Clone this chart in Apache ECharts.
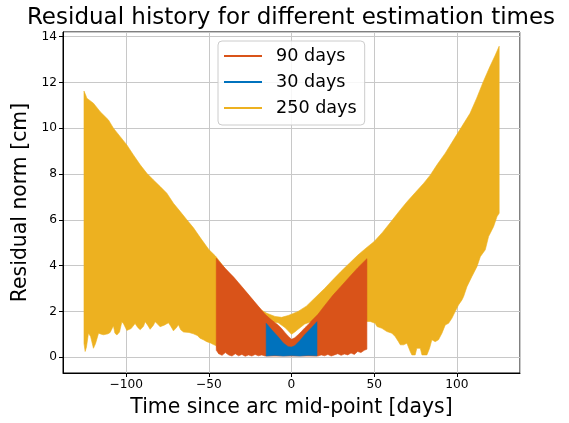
<!DOCTYPE html>
<html>
<head>
<meta charset="utf-8">
<script src="https://cdn.jsdelivr.net/npm/echarts@6/dist/echarts.min.js"></script>
<style>
  html, body { margin: 0; padding: 0; background: #fff; }
  #chart { width: 569px; height: 423px; }
</style>
</head>
<body>
<div id="chart"></div>
<script>
// Residual norm envelopes (cm) of each estimation arc, sampled over time (days since arc mid-point).
// Each band is filled between its upper and lower envelope.

const legendOrder = ['90 days', '30 days', '250 days'];
const xTicks = [-100, -50, 0, 50, 100];
const yTicks = [0, 2, 4, 6, 8, 10, 12, 14];

// 250-day arc
const arc250UpperDays = [-125.5, -124.5, -123.8, -119.8, -115.7, -110.7, -107.7, -103.6, -99.6, -95.6, -91.5, -87.5, -83.5, -79.4, -75.4, -71.4, -67.3, -63.3, -59.3, -55, -50, -46, -45.5, -40, -35, -30, -25, -21, -18, -15, -10, -6, -2, 0, 4, 9, 15, 20, 25, 30, 35, 40, 45, 50, 55, 60, 66, 70, 75, 80, 84, 88, 93, 98, 103, 108, 112, 116, 120, 123, 125.6];
const arc250UpperVals = [11.62, 11.45, 11.31, 11.09, 10.72, 10.36, 10.0, 9.63, 9.27, 8.83, 8.40, 8.03, 7.74, 7.45, 7.16, 6.72, 6.36, 6.0, 5.65, 5.2, 4.7, 4.42, 4.38, 3.85, 3.45, 3.05, 2.62, 2.25, 2.05, 1.92, 1.78, 1.74, 1.82, 1.88, 2.0, 2.23, 2.65, 3.0, 3.38, 3.75, 4.1, 4.45, 4.76, 5.05, 5.45, 5.9, 6.45, 6.8, 7.2, 7.6, 7.96, 8.4, 8.91, 9.49, 10.07, 10.65, 11.31, 12.03, 12.69, 13.15, 13.58];
const arc250LowerDays = [-125.5, -124.8, -124, -122.8, -121.5, -119.8, -118.5, -116.7, -115, -113.7, -111, -109.7, -107.7, -106.8, -105.6, -104, -102.6, -101.5, -99.6, -97, -94.6, -93, -91.5, -89.5, -88.5, -87, -85.5, -83.5, -82.5, -81, -79.5, -77, -74.4, -73, -71.4, -69.5, -68.4, -67, -65.3, -62, -59.3, -57, -55.3, -53, -51.3, -49, -47.2, -45.5, -44, -40, -30, -22, -16, -12, -8, -4, -2, 0, 2, 4, 8, 12, 16, 25, 35, 45.6, 47.6, 50.6, 51.7, 54.7, 57.7, 60.7, 62.7, 64.7, 65.8, 67.8, 69.8, 71.8, 72.8, 74.8, 75.8, 77.9, 78.9, 81.9, 83.5, 84.9, 86.9, 88.9, 91, 93, 95, 97, 99, 101, 103.1, 104.1, 106.1, 109.1, 112.2, 114.2, 117.2, 119.2, 122.2, 124.3, 125.6];
const arc250LowerVals = [0.6, 0.25, 0.45, 1.05, 0.9, 0.39, 0.6, 1.05, 1.0, 0.98, 1.02, 1.08, 1.37, 1.05, 0.97, 1.1, 1.55, 1.45, 1.17, 1.25, 1.47, 1.3, 1.2, 1.35, 1.55, 1.4, 1.22, 1.4, 1.55, 1.45, 1.33, 1.4, 1.5, 1.35, 1.15, 1.3, 1.42, 1.2, 1.1, 1.08, 1.02, 0.95, 0.83, 0.75, 0.68, 0.62, 0.55, 0.5, 0.15, 0.3, 0.6, 1.1, 1.45, 1.55, 1.5, 1.3, 1.15, 1.0, 1.1, 1.22, 1.45, 1.55, 1.6, 1.6, 1.58, 1.56, 1.56, 1.48, 1.34, 1.26, 1.12, 1.05, 0.9, 0.68, 0.54, 0.54, 0.61, 0.25, 0.1, 0.1, 0.39, 0.39, 0.1, 0.1, 0.39, 0.76, 0.68, 0.76, 1.05, 1.41, 1.48, 1.7, 1.99, 2.28, 2.5, 2.65, 3.08, 3.52, 3.96, 4.39, 4.69, 5.27, 5.7, 6.14, 6.29];

// 90-day arc
const arc90UpperDays = [-45.5, -40, -35, -30, -25, -20, -16, -12, -8, -6, -4, -2, 0, 2, 4, 6, 8, 10, 12, 16, 20, 25, 30, 35, 40, 45.6];
const arc90UpperVals = [4.32, 3.87, 3.5, 3.08, 2.65, 2.22, 1.87, 1.62, 1.4, 1.25, 1.08, 0.92, 0.78, 0.85, 0.98, 1.12, 1.28, 1.42, 1.58, 1.87, 2.25, 2.7, 3.1, 3.5, 3.9, 4.3];
const arc90LowerDays = [-45.5, -44, -42, -40, -38, -36, -34, -32, -30, -28, -26, -24, -22, -20, -18, -16, 0, 16, 18, 20, 22, 24, 26, 28, 30, 32, 34, 36, 38, 40, 42, 44, 45.6];
const arc90LowerVals = [0.3, 0.15, 0.08, 0.2, 0.1, 0.05, 0.15, 0.06, 0.12, 0.04, 0.1, 0.05, 0.12, 0.06, 0.1, 0.05, 0.05, 0.05, 0.1, 0.06, 0.12, 0.05, 0.1, 0.15, 0.08, 0.14, 0.1, 0.18, 0.12, 0.25, 0.2, 0.3, 0.35];

// 30-day arc
const arc30UpperDays = [-15.3, -12, -8, -5, -2, 0, 2, 5, 8, 12, 15.4];
const arc30UpperVals = [1.48, 1.2, 0.88, 0.62, 0.46, 0.44, 0.5, 0.72, 0.98, 1.28, 1.55];
const arc30LowerDays = [-15.3, -10, -5, 0, 5, 10, 15.4];
const arc30LowerVals = [0.05, 0.08, 0.05, 0.07, 0.05, 0.08, 0.06];

const FONT = 'DejaVu Sans';

function pairs(days, vals) {
  return days.map((d, i) => [d, vals[i]]);
}

// Closed outline: upper envelope left-to-right, then lower envelope right-to-left.
function bandSeries(name, color, upDays, upVals, loDays, loVals) {
  const outline = pairs(upDays, upVals).concat(pairs(loDays, loVals).reverse());
  return {
    type: 'custom',
    name: name,
    clip: true,
    silent: true,
    itemStyle: { color: color },
    encode: { x: 0, y: 1 },
    data: outline,
    renderItem: function (params, api) {
      if (params.dataIndex !== 0) return null;
      const pts = outline.map(p => api.coord(p));
      return {
        type: 'polygon',
        shape: { points: pts },
        style: { fill: color, stroke: color, lineWidth: 0.6 }
      };
    }
  };
}

const chart = echarts.init(document.getElementById('chart'), null, { renderer: 'canvas' });

const option = {
  animation: false,
  backgroundColor: '#fff',
  textStyle: { fontFamily: FONT },
  graphic: [{
    type: 'text',
    x: 291,
    y: 18,
    style: {
      text: 'Residual history for different estimation times',
      font: '23px "DejaVu Sans"',
      fill: '#000',
      textAlign: 'center',
      textVerticalAlign: 'middle'
    }
  }],
  grid: {
    left: 63, right: 49, top: 32, bottom: 50,
    show: true, borderColor: '#000', borderWidth: 1, backgroundColor: 'transparent'
  },
  legend: {
    data: legendOrder,
    orient: 'vertical',
    left: 218, top: 41,
    padding: [5, 8, 7, 6],
    itemGap: 6,
    itemWidth: 38,
    itemHeight: 2,
    icon: 'rect',
    backgroundColor: 'rgba(255,255,255,0.85)',
    borderColor: '#cccccc',
    borderWidth: 1,
    borderRadius: 4,
    selectedMode: false,
    textStyle: { fontFamily: FONT, fontSize: 17.6, color: '#000', lineHeight: 20, padding: [0, 0, 0, 9] }
  },
  xAxis: {
    type: 'value',
    min: -138.2, max: 138.2,
    splitNumber: 5,
    name: 'Time since arc mid-point [days]',
    nameLocation: 'middle',
    nameGap: 25,
    nameTextStyle: { fontFamily: FONT, fontSize: 20.4, color: '#000' },
    axisLine: { show: true, onZero: false, lineStyle: { color: '#000', width: 1 } },
    axisTick: { show: true, length: 4, lineStyle: { color: '#000' } },
    axisLabel: {
      fontFamily: FONT, fontSize: 12.2, color: '#000', margin: 6,
      showMinLabel: false, showMaxLabel: false,
      formatter: v => xTicks.includes(v) ? String(v).replace('-', '\u2212') : ''
    },
    splitLine: { show: true, lineStyle: { color: '#c8c8c8', width: 1 } }
  },
  yAxis: {
    type: 'value',
    min: -0.69, max: 14.2,
    splitNumber: 7,
    name: 'Residual norm [cm]',
    nameLocation: 'middle',
    nameGap: 27,
    nameTextStyle: { fontFamily: FONT, fontSize: 20.4, color: '#000' },
    axisLine: { show: true, onZero: false, lineStyle: { color: '#000', width: 1 } },
    axisTick: { show: true, length: 4, lineStyle: { color: '#000' } },
    axisLabel: {
      fontFamily: FONT, fontSize: 12.2, color: '#000', margin: 6,
      showMinLabel: false, showMaxLabel: false,
      formatter: v => yTicks.includes(v) ? String(v) : ''
    },
    splitLine: { show: true, lineStyle: { color: '#c8c8c8', width: 1 } }
  },
  series: [
    bandSeries('250 days', '#EDB120', arc250UpperDays, arc250UpperVals, arc250LowerDays, arc250LowerVals),
    bandSeries('90 days', '#D95319', arc90UpperDays, arc90UpperVals, arc90LowerDays, arc90LowerVals),
    bandSeries('30 days', '#0072BD', arc30UpperDays, arc30UpperVals, arc30LowerDays, arc30LowerVals)
  ]
};

chart.setOption(option);
</script>
</body>
</html>
